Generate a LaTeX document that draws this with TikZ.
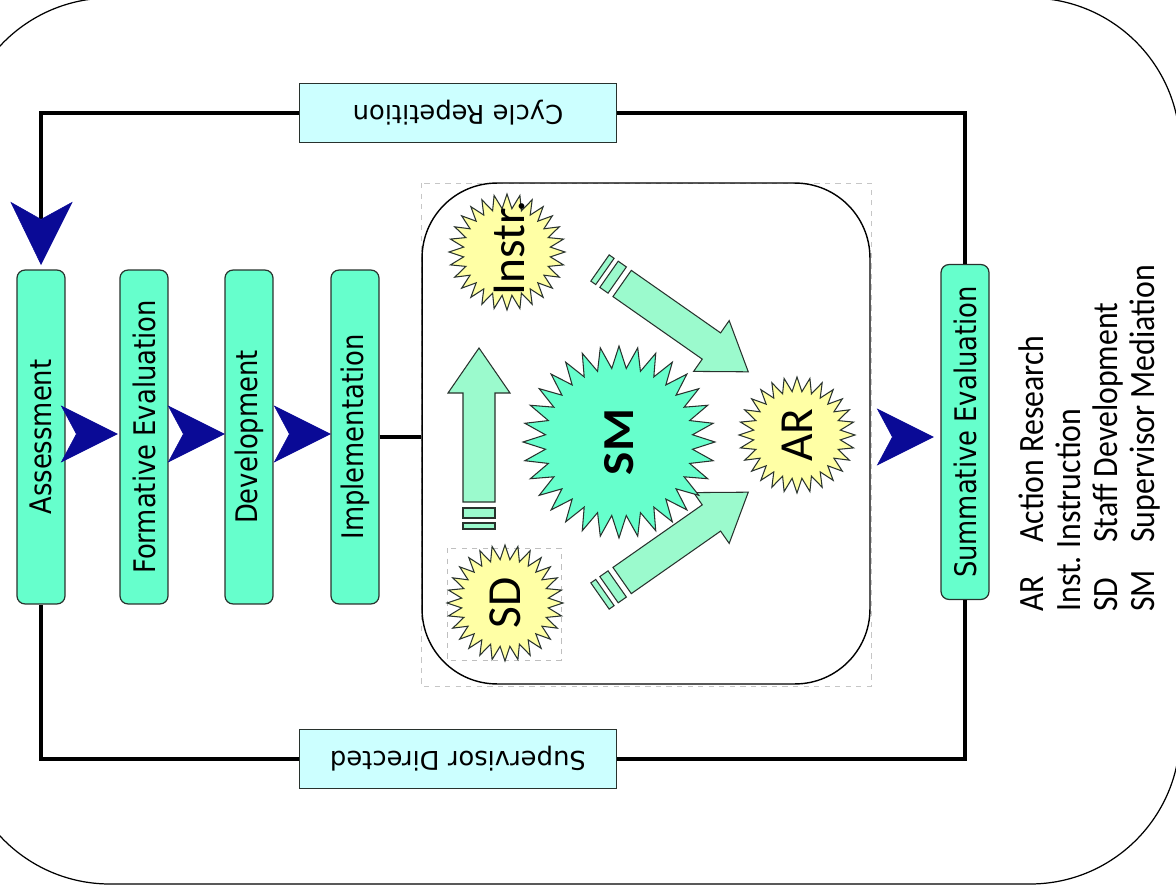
\documentclass[tikz,border=0pt]{standalone}
\usepackage{fontspec}
\usepackage{graphicx}
\setmainfont{DejaVu Sans}
\newfontfamily\calib{Carlito}
\usetikzlibrary{shapes.geometric,calc}
\definecolor{mint}{RGB}{102,255,204}
\definecolor{paleMint}{RGB}{155,250,205}
\definecolor{paleCyan}{RGB}{204,255,255}
\definecolor{paleYellow}{RGB}{255,255,165}
\definecolor{navyDart}{RGB}{10,10,150}
\definecolor{edgeGray}{RGB}{40,50,45}
\newcommand\boxfont{\fontsize{14.7}{17}\selectfont}
\newcommand\legfont{\calib\fontsize{18.1}{21}\selectfont}
\newcommand\starfont{\calib\fontsize{27}{30}\selectfont}
\newcommand\myvtext[1]{\rotatebox{90}{\scalebox{1}[1.15]{#1}}}
\newcommand\blockarrow[3]{%
  \begin{scope}[shift={(#1,#2)},rotate=#3]
    \filldraw[barrow] (0,-16) rectangle (6,16);
    \filldraw[barrow] (11,-16) rectangle (21,16);
    \filldraw[barrow] (27,-16) -- (136,-16) -- (136,-31) -- (181,0) -- (136,31) -- (136,16) -- (27,16) -- cycle;
  \end{scope}}
\newcommand\dartR[1]{\filldraw[navydart] #1 -- ++(-56,-28) -- ++(15,28) -- ++(-15,28) -- cycle;}
\begin{document}
\begin{tikzpicture}[x=0.02cm,y=-0.02cm,
  stage/.style={draw=edgeGray, line width=0.7pt, fill=mint, rounded corners=0.16cm,
    minimum width=0.96cm, minimum height=6.68cm, inner sep=0pt, font=\boxfont},
  lbl/.style={draw=edgeGray, line width=0.7pt, fill=paleCyan, minimum width=6.34cm,
    minimum height=1.18cm, inner sep=0pt, font=\boxfont},
  conn/.style={line width=2.2pt, black},
  navydart/.style={fill=navyDart, draw=navyDart, line width=0.3pt},
  barrow/.style={fill=paleMint, draw=edgeGray, line width=0.6pt},
  burst/.style={star, star points=28, star point ratio=1.33, draw=edgeGray, line width=0.6pt,
    inner sep=0pt, fill=paleYellow, minimum size=2.32cm},
  leg/.style={anchor=base west, rotate=90, inner sep=0pt, font=\legfont}]
\useasboundingbox (0,0) rectangle (1176,888);
\begin{scope}
  \clip (0,0) rectangle (1176,888);
  \draw[line width=0.7pt, rounded corners=3cm] (-40,-2) rectangle (1180,884);
\end{scope}

% stages
\node[stage] (assess) at (41,437) {\myvtext{Assessment}};
\node[stage] (form) at (144,437) {\myvtext{Formative Evaluation}};
\node[stage] (dev) at (249,437) {\myvtext{Development}};
\node[stage] (impl) at (355,437) {\myvtext{Implementation}};
\node[stage, minimum height=6.7cm] (summ) at (965,432) {\myvtext{Summative Evaluation}};
\node[lbl] (cycle) at (458,113) {\rotatebox{180}{Cycle Repetition}};
\node[lbl] (superv) at (458,759) {\rotatebox{180}{Supervisor Directed}};

% inner panel
\draw[gray!45, dashed, line width=0.4pt] (421,183) rectangle (871,686);
\node[draw, line width=0.8pt, rounded corners=1.5cm, minimum width=8.96cm,
  minimum height=10.02cm, inner sep=0pt] (inner) at (646,433.5) {};

% connectors
\coordinate (toptip) at ($(assess.north)+(0,-5)$);
\coordinate (topnotch) at ($(toptip)+(0,-45)$);
\draw[conn] (cycle.west) -| (topnotch);
\draw[conn] (cycle.east) -| (summ.north);
\draw[conn] (summ.south) |- (superv.east);
\draw[conn] (superv.west) -| (assess.south);
\draw[conn] (impl.east) -- (impl.east -| inner.west);

% darts
\filldraw[navydart] (toptip) -- ++(-30,-62) -- ++(30,17) -- ++(31,-17) -- cycle;
\dartR{($(form.west)+(-2,-3)$)}
\dartR{($(dev.west)+(0,-3)$)}
\dartR{($(impl.west)+(0,-3)$)}
\dartR{($(summ.west)+(-7,5)$)}

% block arrows
\blockarrow{479}{529}{90}
\blockarrow{600}{268}{-35}
\blockarrow{600}{596}{35}

% stars
\draw[gray!50, dashed, line width=0.4pt] (447,548) rectangle (561,660);
\node[burst] (instr) at (507,252) {};
\node[burst] (sd) at (505,603) {};
\node[burst] (ar) at (797,435) {};
\node[burst, fill=mint, star points=32, star point ratio=1.3, minimum size=3.84cm] (sm) at (619,442) {};
\node[font=\starfont] (instrl) at ($(instr)+(2,-4)$) {\rotatebox{90}{Instr.}};
\node[font=\starfont] (sdl) at (sd) {\rotatebox{90}{SD}};
\node[font=\starfont] (arl) at (ar) {\rotatebox{90}{AR}};
\node[font=\calib\fontsize{28}{30}\selectfont\bfseries] (sml) at (sm) {\rotatebox{90}{\scalebox{1}[0.9]{SM}}};

% legend
\node[leg] (l1a) at (1043,612) {\scalebox{1}[1.12]{AR}};
\node[leg] (l1b) at (1043,543) {\scalebox{1}[1.12]{Action Research}};
\node[leg] (l2a) at (1080,612) {\scalebox{1}[1.12]{Inst.}};
\node[leg] (l2b) at (1080,549) {\scalebox{1}[1.12]{Instruction}};
\node[leg] (l3a) at (1117,612) {\scalebox{1}[1.12]{SD}};
\node[leg] (l3b) at (1117,543) {\scalebox{1}[1.12]{Staff Development}};
\node[leg] (l4a) at (1154,612) {\scalebox{1}[1.12]{SM}};
\node[leg] (l4b) at (1154,543) {\scalebox{1}[1.12]{Supervisor Mediation}};
\end{tikzpicture}
\end{document}
